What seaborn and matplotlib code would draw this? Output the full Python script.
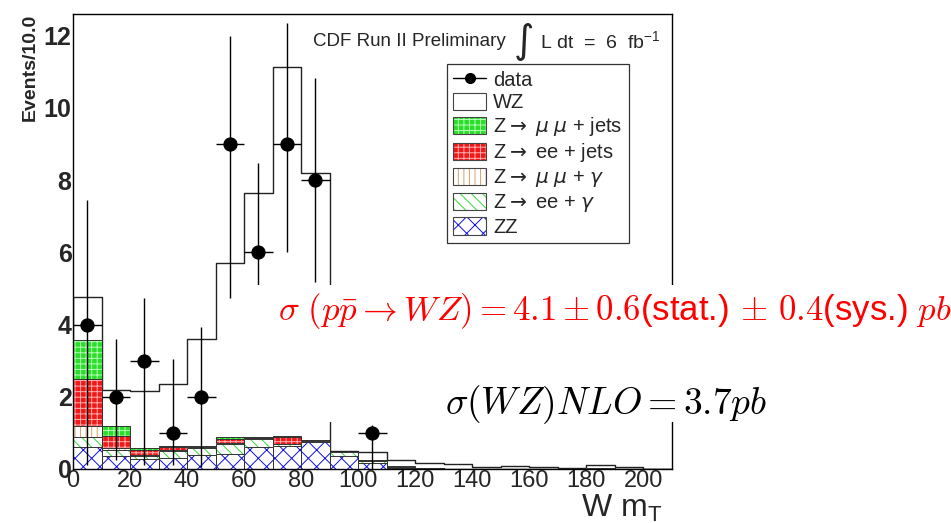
import numpy as np
import pandas as pd
import matplotlib
matplotlib.use("Agg")
import matplotlib.pyplot as plt
import seaborn as sns
from matplotlib.patches import Patch, Rectangle
from matplotlib.lines import Line2D
from matplotlib.ticker import MultipleLocator

# ---------------- data ----------------
bin_edges = list(range(0, 220, 10))
bin_centers = [5 + 10 * i for i in range(21)]

zz         = [0.62, 0.36, 0.27, 0.30, 0.38, 0.42, 0.62, 0.64, 0.75, 0.36, 0.18, 0.04, 0.01, 0, 0, 0, 0, 0, 0, 0, 0]
ee_gamma   = [0.28, 0.17, 0.10, 0.20, 0.20, 0.27, 0.20, 0.05, 0.03, 0.10, 0.05, 0.02, 0.01, 0, 0, 0, 0, 0, 0.03, 0, 0]
mumu_gamma = [0.30, 0.05, 0.02, 0.02, 0.02, 0.02, 0.02, 0.01, 0.00, 0.00, 0.00, 0.00, 0, 0, 0, 0, 0, 0, 0, 0, 0]
ee_jets    = [1.29, 0.33, 0.14, 0.08, 0.02, 0.11, 0.02, 0.18, 0.01, 0.01, 0.01, 0.00, 0, 0, 0, 0, 0, 0, 0, 0, 0]
mumu_jets  = [1.09, 0.29, 0.04, 0.04, 0.02, 0.07, 0.02, 0.04, 0.01, 0.01, 0.01, 0.01, 0, 0, 0, 0, 0, 0, 0, 0, 0]
wz         = [1.17, 1.00, 1.59, 1.72, 2.96, 4.81, 6.77, 10.22, 7.40, 0.02, 0.23, 0.18, 0.15, 0.13, 0.06, 0.08, 0.06, 0.03, 0.07, 0.06, 0]

data_x      = [5, 15, 25, 35, 45, 55, 65, 75, 85, 105]
data_y      = [4, 2, 3, 1, 2, 9, 6, 9, 8, 1]
data_err_hi = [3.46, 1.60, 1.73, 2.05, 1.93, 3.00, 2.47, 3.35, 2.83, 0.22]
data_err_lo = [3.90, 1.75, 2.90, 0.90, 1.95, 4.26, 2.45, 3.00, 2.83, 1.00]

labels = ["data", "WZ", r"Z$\rightarrow$ $\mu$ $\mu$ + jets", r"Z$\rightarrow$ ee + jets",
          r"Z$\rightarrow$ $\mu$ $\mu$ + $\gamma$", r"Z$\rightarrow$ ee + $\gamma$", "ZZ"]

# ---------------- style ----------------
sns.set_style("white")
plt.rcParams["font.family"] = ["Liberation Sans", "DejaVu Sans"]
plt.rcParams["mathtext.fontset"] = "cm"
plt.rcParams["hatch.linewidth"] = 0.7

fig = plt.figure(figsize=(9.51, 5.23), dpi=100)
ax = fig.add_axes([73 / 951, 1 - 469 / 523, (672 - 73) / 951, (469 - 14) / 523])

# layers bottom -> top
layers = [
    ("ZZ",        zz,         "white",   "#1010e0", "xx"),
    ("ee_gamma",  ee_gamma,   "white",   "#33dd33", "\\\\\\"),
    ("mumu_gamma",mumu_gamma, "white",   "#d9a26a", "|||"),
    ("ee_jets",   ee_jets,    "#f01818", "#ffb0b0", "+++"),
    ("mumu_jets", mumu_jets,  "#2ade2a", "#b8ffb8", "+++"),
]
cum = np.zeros(len(bin_centers))
cums = []
for name, vals, fc, hc, h in layers:
    cum = cum + np.array(vals)
    cums.append(cum.copy())
total = cum + np.array(wz)

# WZ (top of stack): white fill with step outline
sns.histplot(x=bin_centers, weights=total, bins=bin_edges, element="step", fill=True,
             color="white", alpha=1, edgecolor="#222222", linewidth=1.0, ax=ax, zorder=1)

# backgrounds drawn from the top cumulative layer downwards
for (name, vals, fc, hc, h), c in reversed(list(zip(layers, cums))):
    sns.histplot(x=bin_centers, weights=c, bins=bin_edges, element="bars", fill=True,
                 color=fc, alpha=1, ax=ax, zorder=2)
    for p in ax.containers[-1]:
        p.set_facecolor(fc)
        p.set_edgecolor(hc)
        p.set_hatch(h)
        p.set_linewidth(0)
    sns.histplot(x=bin_centers, weights=c, bins=bin_edges, element="bars", fill=False,
                 color="#333333", linewidth=0.7, ax=ax, zorder=2)

# data
ax.errorbar(data_x, data_y, xerr=5, yerr=[data_err_lo, data_err_hi], fmt="none",
            ecolor="black", elinewidth=1.0, capsize=0, zorder=5)
sns.scatterplot(x=data_x, y=data_y, color="black", s=90, edgecolor="black", ax=ax, zorder=6)

# axes
ax.set_xlim(0, 210)
ax.set_ylim(0, 12.6)
ax.set_xlabel("")
ax.set_ylabel("")
ax.xaxis.set_major_locator(MultipleLocator(20))
ax.xaxis.set_minor_locator(MultipleLocator(5))
ax.yaxis.set_major_locator(MultipleLocator(2))
ax.yaxis.set_minor_locator(MultipleLocator(0.5))
ax.tick_params(axis="both", which="both", direction="in", top=False, right=False)
ax.tick_params(axis="x", which="major", length=9, width=0.8, labelsize=17, pad=1)
ax.tick_params(axis="x", which="minor", length=4, width=0.8)
ax.tick_params(axis="y", which="major", length=13, width=0.8, labelsize=18, pad=1)
ax.tick_params(axis="y", which="minor", length=7, width=0.8)
for lab in ax.get_yticklabels():
    lab.set_fontweight("bold")
for s in ax.spines.values():
    s.set_color("black")
    s.set_linewidth(1.0)
    s.set_visible(True)

# legend
def hpatch(fc, hc, h):
    return (Patch(facecolor=fc, edgecolor=hc, hatch=h, linewidth=0),
            Patch(facecolor="none", edgecolor="#444444", linewidth=0.8))

handles = [Line2D([0], [0], color="black", marker="o", markersize=7, linewidth=1.0),
           Patch(facecolor="white", edgecolor="#444444", linewidth=0.8)]
for name, vals, fc, hc, h in reversed(layers):
    handles.append(hpatch(fc, hc, h))
leg = ax.legend(handles, labels, loc="upper left", bbox_to_anchor=(0.6244, 0.890),
                borderaxespad=0, frameon=True, fancybox=False, edgecolor="black",
                fontsize=14.5, handlelength=1.65, handleheight=0.95, labelspacing=0.15,
                borderpad=0.3, handletextpad=0.35)
leg.get_frame().set_linewidth(0.9)
for t in leg.get_texts():
    t.set_math_fontfamily("dejavusans")

# texts
fig.text(313 / 951, 1 - 42 / 523, "CDF Run II Preliminary", fontsize=13.5, va="center", ha="left")
fig.text(523 / 951, 1 - 42 / 523, r"$\int$", fontsize=20, va="center", ha="center",
         math_fontfamily="dejavusans")
fig.text(540 / 951, 1 - 42 / 523, r"L dt  =  6  fb$^{\mathregular{-1}}$", fontsize=14,
         va="center", ha="left", math_fontfamily="dejavusans")
fig.text(30 / 951, 1 - 14 / 523, "Events/10.0", rotation=90, va="top", ha="center",
         fontsize=14, fontweight="bold")
fig.text(662 / 951, 1 - 517 / 523, r"W m$_{\mathregular{T}}$", fontsize=23, ha="right",
         va="baseline", math_fontfamily="dejavusans")

# pasted formula (white background)
fig.add_artist(Rectangle((240 / 951, 1 - 422 / 523), 711 / 951, 137 / 523,
                         transform=fig.transFigure, facecolor="white", edgecolor="none", zorder=10))
fig.text(278 / 951, 1 - 311 / 523,
         r"$\sigma\ (p\bar{p} \rightarrow WZ) = 4.1 \pm 0.6$(stat.)$\,\pm\, 0.4$(sys.)$\ pb$",
         color="#ff0000", fontsize=25, va="center", ha="left", zorder=11)
fig.text(445 / 951, 1 - 405 / 523, r"$\sigma(WZ)NLO = 3.7pb$",
         color="black", fontsize=27, va="center", ha="left", zorder=11)

fig.savefig("out.png", dpi=100)
